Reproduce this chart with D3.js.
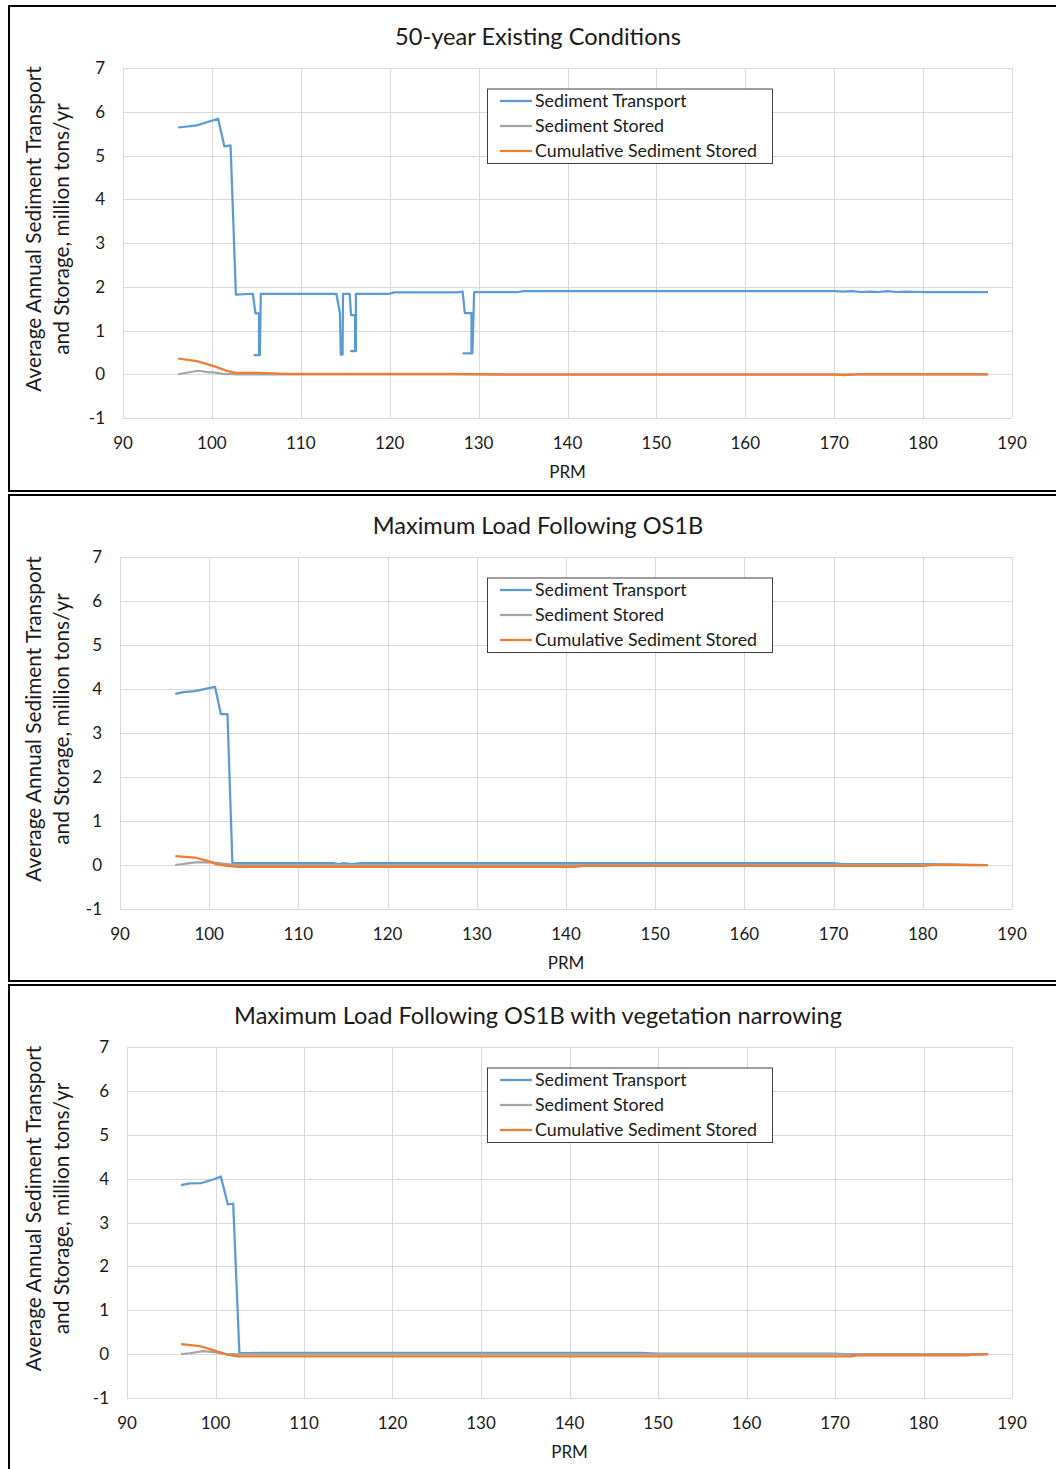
<!DOCTYPE html>
<html>
<head>
<meta charset="utf-8">
<script src="https://cdn.jsdelivr.net/npm/d3@7"></script>
<style>
  body { margin: 0; background: #fff; }
  text { font-family: Lato, "Open Sans", sans-serif; fill: #1a1a1a; }
</style>
</head>
<body>
<div id="chart"></div>
<script>
// chart values: [PRM, million tons/yr]
var seriesNames = ["Sediment Transport", "Sediment Stored", "Cumulative Sediment Stored"];
var seriesColors = ["#5b9bd5", "#a5a5a5", "#ed7d31"];
var titles = ["50-year Existing Conditions", "Maximum Load Following OS1B", "Maximum Load Following OS1B with vegetation narrowing"];
var xTicks = [90, 100, 110, 120, 130, 140, 150, 160, 170, 180, 190];
var yTicks = [-1, 0, 1, 2, 3, 4, 5, 6, 7];

var existingTransport = [[96.2,5.64],[98.3,5.69],[100.7,5.84],[101.4,5.21],[102.1,5.23],[102.7,1.82],
  [104.6,1.84],[104.9,1.39],[105.3,1.39],[105.3,0.44],[104.8,0.44],[105.4,0.44],[105.5,1.84],
  [114.0,1.84],[114.4,1.40],[114.5,0.45],[114.7,0.45],[114.75,1.84],[115.5,1.84],
  [115.65,1.35],[116.1,1.35],[116.1,0.53],[115.65,0.53],[116.2,0.53],[116.2,1.84],
  [120,1.84],[120.5,1.87],[127.5,1.87],[128.2,1.89],[128.45,1.40],[129.2,1.40],[129.2,0.48],
  [128.3,0.48],[129.3,0.48],[129.5,1.88],[134.5,1.88],[135,1.9],[170,1.9],[171,1.89],[172,1.9],
  [173,1.88],[174,1.89],[175,1.88],[176,1.9],[177,1.88],[178,1.89],[180,1.88],[187.3,1.88]];
var existingStored = [[96.2,0.0],[97.3,0.04],[98.5,0.08],[99.5,0.05],[100.3,0.04],[101.2,0.01],[102.6,0.0],[187.3,0.0]];
var existingCumulative = [[96.2,0.36],[98.3,0.3],[100.3,0.18],[101.5,0.09],[102.6,0.03],[105,0.03],[107,0.02],
  [108,0.01],[127,0.01],[133,-0.01],[170,-0.01],[171,-0.02],[173,0.0],[187.3,0.0]];

var os1bTransport = [[96.2,3.89],[97.1,3.93],[98.4,3.95],[99.7,4.01],[100.65,4.05],[101.3,3.43],[102.05,3.43],
  [102.6,0.04],[114,0.04],[114.5,0.02],[115,0.04],[116,0.02],[117,0.04],[170,0.04],[171,0.02],[180,0.02],
  [184,0.01],[187.3,0.0]];
var os1bStored = [[96.2,0.0],[98.4,0.06],[100.3,0.06],[102,0.02],[103,0.0],[187.3,0.0]];
var os1bCumulative = [[96.2,0.2],[98.4,0.17],[99.7,0.1],[100.8,0.02],[102,-0.02],[103.3,-0.04],[141,-0.04],
  [142,-0.02],[180,-0.02],[181,0.0],[183,0.01],[185,0.0],[187.3,0.0]];

var vegTransport = [[96.1,3.85],[97.1,3.89],[98.4,3.9],[99.75,3.98],[100.6,4.05],[101.4,3.41],[102.0,3.43],
  [102.7,0.03],[104,0.02],[105,0.03],[148,0.03],[150,0.01],[170,0.01],[171,0.0],[180,0.0],[182,-0.01],
  [185,-0.01],[187.3,0.0]];
var vegStored = [[96.1,0.0],[97.1,0.02],[98.6,0.07],[100,0.04],[101.3,0.0],[187.3,0.0]];
var vegCumulative = [[96.1,0.23],[98.25,0.18],[99.75,0.09],[101.3,-0.01],[102.6,-0.05],[171.8,-0.05],
  [172.5,-0.03],[185,-0.03],[185.5,-0.01],[187.3,0.0]];

var panelSeries = [
  [existingTransport, existingStored, existingCumulative],
  [os1bTransport, os1bStored, os1bCumulative],
  [vegTransport, vegStored, vegCumulative]
];

// layout of each panel (pixels)
var panels = [
  {frameTop: 6,   frameBottom: 491,  left: 123, right: 1012, top: 68,   bottom: 418},
  {frameTop: 495, frameBottom: 981,  left: 120, right: 1012, top: 557,  bottom: 909},
  {frameTop: 985, frameBottom: 1471, left: 127, right: 1012, top: 1047, bottom: 1398}
];

var svg = d3.select("#chart").append("svg")
    .attr("width", 1056)
    .attr("height", 1469);

panels.forEach(function(p, i) {
  var g = svg.append("g");

  // frame
  g.append("rect")
      .attr("x", 9).attr("y", p.frameTop)
      .attr("width", 1100).attr("height", p.frameBottom - p.frameTop)
      .attr("fill", "none")
      .attr("stroke", "#000")
      .attr("stroke-width", 2);

  var x = d3.scaleLinear().domain([90, 190]).range([p.left, p.right]);
  var y = d3.scaleLinear().domain([-1, 7]).range([p.bottom, p.top]);

  // gridlines
  g.append("g").selectAll("line.v").data(xTicks).enter().append("line")
      .attr("x1", function(d) { return Math.round(x(d)) + 0.5; })
      .attr("x2", function(d) { return Math.round(x(d)) + 0.5; })
      .attr("y1", p.top).attr("y2", p.bottom)
      .attr("stroke", "#d9d9d9");
  g.append("g").selectAll("line.h").data(yTicks).enter().append("line")
      .attr("x1", p.left).attr("x2", p.right)
      .attr("y1", function(d) { return Math.round(y(d)) + 0.5; })
      .attr("y2", function(d) { return Math.round(y(d)) + 0.5; })
      .attr("stroke", "#d9d9d9");

  // tick labels
  g.append("g").selectAll("text").data(xTicks).enter().append("text")
      .attr("x", function(d) { return x(d); })
      .attr("y", p.bottom + 31)
      .attr("text-anchor", "middle")
      .style("font-size", "17px")
      .text(function(d) { return d; });
  g.append("g").selectAll("text").data(yTicks).enter().append("text")
      .attr("x", p.left - 18)
      .attr("y", function(d) { return y(d) + 6; })
      .attr("text-anchor", "end")
      .style("font-size", "17px")
      .text(function(d) { return d; });

  // titles
  g.append("text")
      .attr("x", 538).attr("y", p.top - 23)
      .attr("text-anchor", "middle")
      .style("font-size", "23.6px")
      .text(titles[i]);
  g.append("text")
      .attr("x", (p.left + p.right) / 2).attr("y", p.bottom + 60)
      .attr("text-anchor", "middle")
      .style("font-size", "17px")
      .text("PRM");
  var ymid = (p.top + p.bottom) / 2 - 14;
  g.append("text")
      .attr("transform", "translate(41," + ymid + ") rotate(-90)")
      .attr("text-anchor", "middle")
      .style("font-size", "20.8px")
      .text("Average Annual Sediment Transport");
  g.append("text")
      .attr("transform", "translate(69," + ymid + ") rotate(-90)")
      .attr("text-anchor", "middle")
      .style("font-size", "20.8px")
      .text("and Storage, million tons/yr");

  // lines
  var line = d3.line()
      .x(function(d) { return x(d[0]); })
      .y(function(d) { return y(d[1]); });
  panelSeries[i].forEach(function(s, k) {
    g.append("path")
        .datum(s)
        .attr("d", line)
        .attr("fill", "none")
        .attr("stroke", seriesColors[k])
        .attr("stroke-width", 2.25)
        .attr("stroke-linejoin", "round");
  });

  // legend
  var lg = g.append("g").attr("transform", "translate(487," + (p.top + 20.5) + ")");
  lg.append("rect")
      .attr("x", 0.5).attr("y", 0.5)
      .attr("width", 285).attr("height", 74.5)
      .attr("fill", "#fff")
      .attr("stroke", "#404040");
  seriesNames.forEach(function(name, k) {
    var ly = 12.5 + k * 25;
    lg.append("line")
        .attr("x1", 13).attr("x2", 45)
        .attr("y1", ly).attr("y2", ly)
        .attr("stroke", seriesColors[k])
        .attr("stroke-width", 2.25);
    lg.append("text")
        .attr("x", 48).attr("y", ly + 6)
        .style("font-size", "17.8px")
        .text(name);
  });
});
</script>
</body>
</html>
